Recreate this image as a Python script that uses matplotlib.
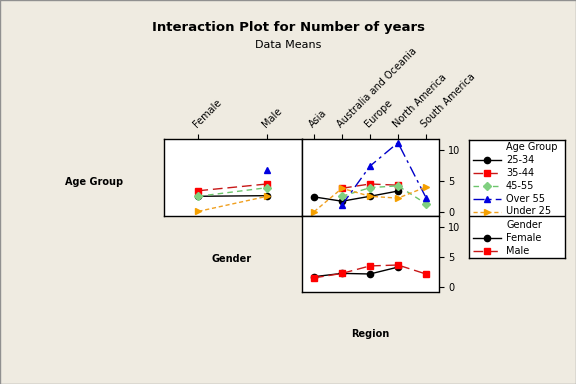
import numpy as np
import matplotlib.pyplot as plt
from matplotlib.patches import Rectangle

# ---- data (means) ----
genders = ['Female', 'Male']
regions = ['Asia', 'Australia and Oceania', 'Europe', 'North America', 'South America']
age_groups = ['25-34', '35-44', '45-55', 'Over 55', 'Under 25']

nan = np.nan
age_by_gender = {
    '25-34':    [2.5, 2.6],
    '35-44':    [3.4, 4.5],
    '45-55':    [2.5, 3.9],
    'Over 55':  [nan, 6.8],
    'Under 25': [0.05, 2.5],
}
age_by_region = {
    '25-34':    [2.4, 1.7, 2.5, 3.35, nan],
    '35-44':    [nan, 3.8, 4.5, 4.3, nan],
    '45-55':    [nan, 2.5, 3.9, 4.2, 1.3],
    'Over 55':  [nan, 1.1, 7.4, 11.2, 2.3],
    'Under 25': [0.0, 3.8, 2.5, 2.2, 4.0],
}
gender_by_region = {
    'Female': [1.75, 2.3, 2.2, 3.35, nan],
    'Male':   [1.55, 2.3, 3.55, 3.7, 2.2],
}

# ---- styles ----
age_style = {
    '25-34':    dict(color='black', marker='o', mfc='black', ls='-'),
    '35-44':    dict(color='#C81818', marker='s', mfc='#FF0000', ls=(0, (7, 3.5))),
    '45-55':    dict(color='#6CC46C', marker='D', mfc='#80D080', ls=(0, (4, 3))),
    'Over 55':  dict(color='#0000C8', marker='^', mfc='#0000E0', ls=(0, (8, 3, 2, 3))),
    'Under 25': dict(color='#F0A020', marker='>', mfc='#F5A000', ls=(0, (3, 2))),
}
gender_style = {
    'Female': dict(color='black', marker='o', mfc='black', ls='-'),
    'Male':   dict(color='#C81818', marker='s', mfc='#FF0000', ls=(0, (7, 3.5))),
}

BG = '#EFEBE1'
W, H = 576, 384
MS = 4.5


def px_axes(fig, x0, x1, y0, y1):
    """Add axes from pixel box (top-left origin)."""
    return fig.add_axes([x0 / W, 1 - y1 / H, (x1 - x0) / W, (y1 - y0) / H])


def draw_series(ax, data, styles):
    for name, vals in data.items():
        vals = np.asarray(vals, dtype=float)
        x = np.arange(len(vals))
        ok = ~np.isnan(vals)
        st = styles[name]
        ax.plot(x[ok], vals[ok], color=st['color'], ls=st['ls'], lw=1.0,
                marker=st['marker'], mfc=st['mfc'], mec=st['mfc'], ms=MS)


fig = plt.figure(figsize=(W / 100, H / 100), dpi=100, facecolor=BG)

ax_g = px_axes(fig, 164, 301.5, 139, 216)
ax_r = px_axes(fig, 301.5, 438.5, 139, 216)
ax_rg = px_axes(fig, 301.5, 438.5, 216, 291.5)

draw_series(ax_g, age_by_gender, age_style)
draw_series(ax_r, age_by_region, age_style)
draw_series(ax_rg, gender_by_region, gender_style)

ax_g.set_xlim(-0.5, 1.5)
for ax in (ax_r, ax_rg):
    ax.set_xlim(-0.45, 4.45)
ax_g.set_ylim(-0.7, 11.8)
ax_r.set_ylim(-0.7, 11.8)
ax_rg.set_ylim(-0.73, 11.9)

for ax in (ax_g, ax_r, ax_rg):
    ax.set_facecolor('white')
    for s in ax.spines.values():
        s.set_linewidth(1.0)
        s.set_color('black')
    ax.tick_params(labelsize=7, length=3.5, width=0.8, colors='black')

# top category ticks
for ax, cats in ((ax_g, genders), (ax_r, regions)):
    ax.xaxis.tick_top()
    ax.set_xticks(range(len(cats)))
    ax.set_xticklabels(cats, rotation=45, ha='left', va='bottom',
                       rotation_mode='anchor', fontsize=7)
ax_rg.set_xticks([])

# right y ticks
ax_g.set_yticks([])
for ax in (ax_r, ax_rg):
    ax.yaxis.tick_right()
    ax.set_yticks([0, 5, 10])

# titles and factor labels
fig.text(288 / W, 1 - 27 / H, 'Interaction Plot for Number of years',
         ha='center', va='center', fontsize=9.5, fontweight='bold')
fig.text(288 / W, 1 - 45 / H, 'Data Means', ha='center', va='center', fontsize=8)
fig.text(94 / W, 1 - 182 / H, 'Age Group', ha='center', va='center',
         fontsize=7, fontweight='bold')
fig.text(232 / W, 1 - 259 / H, 'Gender', ha='center', va='center',
         fontsize=7, fontweight='bold')
fig.text(370 / W, 1 - 334 / H, 'Region', ha='center', va='center',
         fontsize=7, fontweight='bold')

# legend panel
leg = px_axes(fig, 469, 565, 140, 258)
leg.set_xlim(469, 565)
leg.set_ylim(258, 140)
leg.set_xticks([])
leg.set_yticks([])
leg.set_facecolor('white')
for s in leg.spines.values():
    s.set_linewidth(1.0)
leg.axhline(216, color='black', lw=1.0)


def legend_block(title, names, styles, y_top):
    leg.text(506, y_top, title, fontsize=7, va='center', ha='left')
    for i, name in enumerate(names):
        y = y_top + 12.8 * (i + 1)
        st = styles[name]
        leg.plot([473, 501], [y, y], color=st['color'], ls=st['ls'], lw=1.0)
        leg.plot([487], [y], marker=st['marker'], color=st['mfc'], ms=MS)
        leg.text(506, y, name, fontsize=7, va='center', ha='left')


legend_block('Age Group', age_groups, age_style, 147.5)
legend_block('Gender', genders, gender_style, 225)

# figure border
fig.patches.append(Rectangle((0, 0), 1, 1, transform=fig.transFigure,
                             fill=False, edgecolor='#909090', lw=1.0))

fig.savefig('out.png', dpi=100, facecolor=BG)
